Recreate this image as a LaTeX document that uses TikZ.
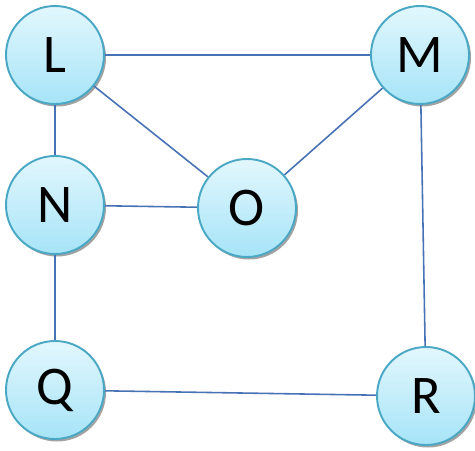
\documentclass[tikz,border=0pt]{standalone}
\usepackage{fontspec}
\setmainfont{Carlito}
\usepackage{tikz}
\usetikzlibrary{shadows}

\definecolor{ringblue}{RGB}{75,168,196}
\definecolor{topfill}{RGB}{226,247,253}
\definecolor{botfill}{RGB}{166,228,247}
\definecolor{edgeblue}{RGB}{72,114,182}

\tikzset{
  vertex/.style={circle, draw=ringblue, line width=1.1pt, minimum size=1.96cm, inner sep=0pt,
    top color=topfill, bottom color=botfill, font=\fontsize{31}{33}\selectfont,
    drop shadow={shadow xshift=0.04cm, shadow yshift=-0.05cm, fill=black!45, opacity=0.8}},
  link/.style={draw=edgeblue, line width=0.9pt}
}

\begin{document}
\begin{tikzpicture}
        \useasboundingbox (0,0) rectangle (9.5,9.0);

        % vertices
        \node[vertex] (L) at (1.10, 7.90) {L};
        \node[vertex] (M) at (8.40, 7.90) {M};
        \node[vertex] (N) at (1.10, 4.90) {N};
        \node[vertex] (O) at (4.94, 4.84) {O};
        \node[vertex] (Q) at (1.10, 1.20) {Q};
        \node[vertex] (R) at (8.52, 1.08) {R};

        % edges
        \draw[link] (L) -- (M);
        \draw[link] (L) -- (N);
        \draw[link] (L) -- (O);
        \draw[link] (N) -- (O);
        \draw[link] (M) -- (O);
        \draw[link] (N) -- (Q);
        \draw[link] (M) -- (R);
        \draw[link] (Q) -- (R);
\end{tikzpicture}
\end{document}
